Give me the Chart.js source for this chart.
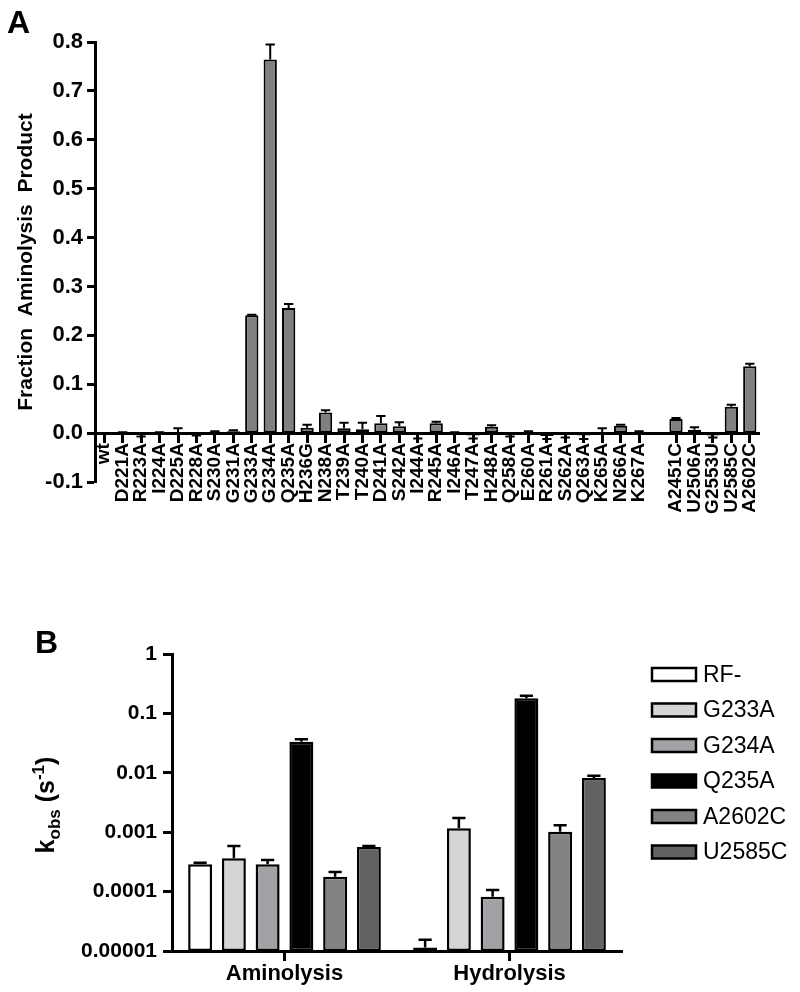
<!DOCTYPE html>
<html>
<head>
<meta charset="utf-8">
<script src="https://cdn.jsdelivr.net/npm/chart.js@4/dist/chart.umd.min.js"></script>
<style>
  html, body { margin: 0; padding: 0; background: #fff; }
  #wrap { position: relative; width: 800px; height: 992px; overflow: hidden; }
  canvas { position: absolute; left: 0; }
  .panel { position: absolute; font-family: "Liberation Sans", Arial, sans-serif; font-weight: bold; font-size: 32px; line-height: 1; color: #000; }
  #kobs { position: absolute; left: 47px; top: 805px; transform: translate(-50%, -50%) rotate(-90deg);
          font-family: "Liberation Sans", Arial, sans-serif; font-weight: bold; font-size: 25px; white-space: nowrap; color: #000; }
  #kobs sub { font-size: 17px; vertical-align: -6px; }
  #kobs sup { font-size: 17px; vertical-align: 10px; }
</style>
</head>
<body>
<div id="wrap">
  <canvas id="cA" width="800" height="560" style="top:0"></canvas>
  <canvas id="cB" width="800" height="432" style="top:560px"></canvas>
  <div class="panel" style="left:7px; top:6px;">A</div>
  <div class="panel" style="left:35px; top:626px;">B</div>
  <div id="kobs">k<sub>obs</sub> (s<sup>-1</sup>)</div>
</div>
<script>
// ---------- Panel A data ----------
const A_LABELS = ['wt','D221A','R223A','I224A','D225A','R228A','S230A','G231A','G233A','G234A','Q235A',
  'H236G','N238A','T239A','T240A','D241A','S242A','I244A','R245A','I246A','T247A','H248A','Q258A',
  'E260A','R261A','S262A','Q263A','K265A','N266A','K267A','','A2451C','U2506A','G2553U','U2585C','A2602C'];
const A_VALUES = [0, 0.001, -0.003, 0.001, 0.001, -0.003, 0.003, 0.004, 0.241, 0.764, 0.256,
  0.011, 0.042, 0.010, 0.008, 0.020, 0.014, -0.004, 0.020, 0.001, -0.005, 0.013, -0.003,
  0.001, -0.006, -0.004, -0.005, 0.002, 0.015, 0.002, null, 0.029, 0.007, -0.005, 0.054, 0.137];
const A_ERRORS = [0, 0.001, 0.004, 0.001, 0.009, 0.002, 0.001, 0.002, 0.001, 0.031, 0.008,
  0.006, 0.005, 0.011, 0.013, 0.015, 0.008, 0.007, 0.003, 0.001, 0.006, 0.003, 0.004,
  0.003, 0.006, 0.005, 0.007, 0.008, 0.002, 0.002, null, 0.002, 0.005, 0.004, 0.004, 0.005];
const A_Y_TITLE = 'Fraction  Aminolysis  Product';

// ---------- Panel B data ----------
const B_CATEGORIES = ['Aminolysis', 'Hydrolysis'];
const B_SERIES = ['RF-', 'G233A', 'G234A', 'Q235A', 'A2602C', 'U2585C'];
const B_AMINOLYSIS = [2.9e-4, 3.65e-4, 2.9e-4, 0.0334, 1.78e-4, 5.63e-4];
const B_AMINOLYSIS_ERR = [0.17e-4, 2.2e-4, 0.5e-4, 0.0032, 0.36e-4, 0.23e-4];
const B_HYDROLYSIS = [1.15e-5, 1.16e-3, 8.2e-5, 0.18, 1.02e-3, 8.2e-3];
const B_HYDROLYSIS_ERR = [0.4e-5, 0.57e-3, 2.4e-5, 0.019, 0.29e-3, 0.7e-3];
const B_TICK_VALUES = [0.00001, 0.0001, 0.001, 0.01, 0.1, 1];
const B_TICK_LABELS = ['0.00001', '0.0001', '0.001', '0.01', '0.1', '1'];

// ---------- styles ----------
const B_COLORS = ['#ffffff', '#d4d4d4', '#a2a2a6', '#000000', '#828282', '#626262'];
const FONT = '"Liberation Sans", Arial, Helvetica, sans-serif';
Chart.defaults.font.family = FONT;
Chart.defaults.color = '#000';

const errorBars = {
  id: 'errorBars',
  afterDatasetsDraw(chart, args, opts) {
    const ctx = chart.ctx;
    ctx.save();
    ctx.strokeStyle = '#000';
    ctx.lineWidth = opts.lineWidth || 2;
    ctx.lineCap = 'butt';
    chart.data.datasets.forEach((ds, di) => {
      if (!ds.errors) return;
      const meta = chart.getDatasetMeta(di);
      const ys = chart.scales[meta.yAxisID];
      meta.data.forEach((bar, i) => {
        const v = ds.data[i], e = ds.errors[i];
        if (v == null || !e) return;
        const tip = v >= 0 ? v + e : v - e;
        const y0 = ys.getPixelForValue(v);
        const y1 = ys.getPixelForValue(tip);
        const hw = bar.width * (opts.cap || 0.6) / 2;
        ctx.beginPath();
        ctx.moveTo(bar.x, y0);
        ctx.lineTo(bar.x, y1);
        ctx.moveTo(bar.x - hw, y1);
        ctx.lineTo(bar.x + hw, y1);
        ctx.stroke();
      });
    });
    ctx.restore();
  }
};

const sideLegend = {
  id: 'sideLegend',
  afterDraw(chart, args, opts) {
    if (!opts.display) return;
    const ctx = chart.ctx;
    const ca = chart.chartArea;
    ctx.save();
    ctx.font = opts.font;
    ctx.textBaseline = 'middle';
    ctx.textAlign = 'left';
    chart.data.datasets.forEach((ds, i) => {
      const x = ca.right + opts.dx;
      const yc = ca.top + opts.dy + i * opts.pitch;
      ctx.fillStyle = ds.backgroundColor;
      ctx.fillRect(x, yc - opts.boxH / 2, opts.boxW, opts.boxH);
      ctx.lineWidth = opts.borderWidth;
      ctx.strokeStyle = '#000';
      ctx.strokeRect(x, yc - opts.boxH / 2, opts.boxW, opts.boxH);
      ctx.fillStyle = '#000';
      ctx.fillText(ds.label, x + opts.boxW + opts.gap, yc + 1);
    });
    ctx.restore();
  }
};

// ---------- Chart A ----------
new Chart(document.getElementById('cA'), {
  type: 'bar',
  data: {
    labels: A_LABELS,
    datasets: [{
      data: A_VALUES,
      errors: A_ERRORS,
      backgroundColor: '#808080',
      borderColor: '#000',
      borderWidth: 2,
      borderSkipped: false,
      barPercentage: 0.72,
      categoryPercentage: 1
    }]
  },
  options: {
    responsive: false,
    animation: false,
    devicePixelRatio: 1,
    layout: { padding: { top: 42, right: 41, left: 0, bottom: 78 } },
    plugins: {
      legend: { display: false },
      tooltip: { enabled: false },
      errorBars: { cap: 0.7, lineWidth: 2 },
      sideLegend: { display: false }
    },
    scales: {
      x: {
        position: { y: 0 },
        offset: true,
        grid: {
          offset: false, drawOnChartArea: false, drawTicks: true, tickLength: 8, tickWidth: 3,
          tickColor: (c) => (c.tick && c.tick.label === '') ? 'rgba(0,0,0,0)' : '#000'
        },
        border: { color: '#000', width: 3 },
        ticks: {
          autoSkip: false, minRotation: 90, maxRotation: 90, padding: 2,
          color: '#000', font: { size: 19, weight: 'bold' }
        }
      },
      y: {
        min: -0.1, max: 0.8,
        grid: { drawOnChartArea: false, drawTicks: true, tickLength: 8, tickWidth: 3, tickColor: '#000' },
        border: { color: '#000', width: 3 },
        ticks: {
          stepSize: 0.1, padding: 4, color: '#000', font: { size: 22, weight: 'bold' },
          callback: (v) => Number(v).toFixed(1)
        },
        title: {
          display: true, text: A_Y_TITLE, color: '#000',
          font: { size: 21, weight: 'bold' }, padding: { top: 14, bottom: 0 }
        },
        afterFit: (s) => { s.width = 95; }
      }
    }
  },
  plugins: [errorBars, sideLegend]
});

// ---------- Chart B ----------
new Chart(document.getElementById('cB'), {
  type: 'bar',
  data: {
    labels: B_CATEGORIES,
    datasets: B_SERIES.map((name, i) => ({
      label: name,
      data: [B_AMINOLYSIS[i], B_HYDROLYSIS[i]],
      errors: [B_AMINOLYSIS_ERR[i], B_HYDROLYSIS_ERR[i]],
      backgroundColor: B_COLORS[i],
      borderColor: '#000',
      borderWidth: 2.5,
      borderSkipped: false,
      barPercentage: 0.71,
      categoryPercentage: 0.9
    }))
  },
  options: {
    responsive: false,
    animation: false,
    devicePixelRatio: 1,
    layout: { padding: { top: 94, right: 178, left: 0, bottom: 0 } },
    plugins: {
      legend: { display: false },
      tooltip: { enabled: false },
      errorBars: { cap: 0.55, lineWidth: 2.5 },
      sideLegend: {
        display: true, font: '23px ' + FONT, dx: 30, dy: 20.5, pitch: 35.5,
        boxW: 44, boxH: 13, gap: 7, borderWidth: 2.5
      }
    },
    scales: {
      x: {
        position: 'bottom',
        offset: true,
        grid: { offset: false, drawOnChartArea: false, drawTicks: true, tickLength: 10, tickWidth: 3, tickColor: '#000' },
        border: { color: '#000', width: 3 },
        ticks: { padding: 0, color: '#000', font: { size: 22, weight: 'bold' } },
        afterFit: (s) => { s.height = 41; }
      },
      y: {
        type: 'logarithmic',
        min: 0.00001, max: 1,
        afterBuildTicks: (s) => { s.ticks = B_TICK_VALUES.map(v => ({ value: v })); },
        grid: { drawOnChartArea: false, drawTicks: true, tickLength: 9, tickWidth: 3, tickColor: '#000' },
        border: { color: '#000', width: 3 },
        ticks: {
          padding: 6, color: '#000', font: { size: 21, weight: 'bold' },
          callback: (v, i) => B_TICK_LABELS[i]
        },
        afterFit: (s) => { s.width = 172; }
      }
    }
  },
  plugins: [errorBars, sideLegend]
});
</script>
</body>
</html>
